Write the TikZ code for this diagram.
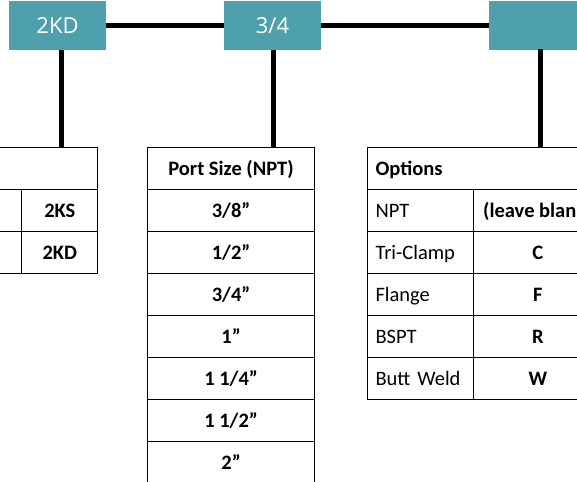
\documentclass[tikz,border=0pt]{standalone}
\usepackage{fontspec}
\setmainfont{Carlito}
\newfontfamily\boxfont{Open Sans}
\definecolor{tealbox}{HTML}{4FA0AD}
\begin{document}
\begin{tikzpicture}[x=1pt,y=-1pt,
  topbox/.style={fill=tealbox, text=white, minimum width=97pt, minimum height=49pt, inner sep=0pt, font=\boxfont\fontsize{22}{24}\selectfont},
  link/.style={line width=5pt},
  cell/.style={draw, line width=1.1pt, inner sep=0pt, anchor=north west, minimum height=42pt, text height=15pt, text depth=2pt, font=\fontsize{20.5}{22}\selectfont},
  cellC/.style={cell, minimum width=#1},
  cellL/.style={cell, text width=#1-16pt, inner xsep=8pt, align=left},
  bold/.style={font=\fontsize{20.5}{22}\selectfont\bfseries}
]
\clip (0,0) rectangle (577,481);
\fill[white] (0,0) rectangle (577,481);

% top boxes
\node[topbox] (b1) at (57.5,25.5) {2KD};
\node[topbox] (b2) at (272.5,25.5) {3/4};
\node[topbox] (b3) at (537.5,25.5) {};

\draw[link] (b1.east) -- (b2.west);
\draw[link] (b2.east) -- (b3.west);

% table 1
\node[cellC=158pt] (h1) at (-61,147.3) {};
\node[cellC=82.3pt] (t1a1) at (-61,189.3) {};
\node[cellC=76pt, bold] (t1b1) at (21.3,189.3) {2KS};
\node[cellC=82.3pt] (t1a2) at (-61,231.3) {};
\node[cellC=76pt, bold] (t1b2) at (21.3,231.3) {2KD};

% table 2
\node[cellC=167pt, bold] (h2) at (147,147.3) {Port Size (NPT)};
\node[cellC=167pt, bold] (p1) at (147,189.3) {3/8”};
\node[cellC=167pt, bold] (p2) at (147,231.3) {1/2”};
\node[cellC=167pt, bold] (p3) at (147,273.3) {3/4”};
\node[cellC=167pt, bold] (p4) at (147,315.3) {1”};
\node[cellC=167pt, bold] (p5) at (147,357.3) {1 1/4”};
\node[cellC=167pt, bold] (p6) at (147,399.3) {1 1/2”};
\node[cellC=167pt, bold] (p7) at (147,441.3) {2”};

% table 3
\node[cellL=234pt, bold] (h3) at (367,147.3) {Options};
\node[cellL=106.3pt] (o1) at (367,189.3) {NPT};
\node[cellC=128pt, bold] (v1) at (473.3,189.3) {(leave blank)};
\node[cellL=106.3pt] (o2) at (367,231.3) {Tri-Clamp};
\node[cellC=128pt, bold] (v2) at (473.3,231.3) {C};
\node[cellL=106.3pt] (o3) at (367,273.3) {Flange};
\node[cellC=128pt, bold] (v3) at (473.3,273.3) {F};
\node[cellL=106.3pt] (o4) at (367,315.3) {BSPT};
\node[cellC=128pt, bold] (v4) at (473.3,315.3) {R};
\node[cellL=106.3pt] (o5) at (367,357.3) {Butt Weld};
\node[cellC=128pt, bold] (v5) at (473.3,357.3) {W};

% vertical links
\coordinate (c1) at (61.3,146);
\coordinate (c2) at (273.3,146);
\coordinate (c3) at (540.5,146);
\draw[link] (c1 |- b1.south) -- (c1 |- h1.north);
\draw[link] (c2 |- b2.south) -- (c2 |- h2.north);
\draw[link] ([yshift=1pt]c3 |- b3.south) -- (c3 |- h3.north);
\end{tikzpicture}
\end{document}
